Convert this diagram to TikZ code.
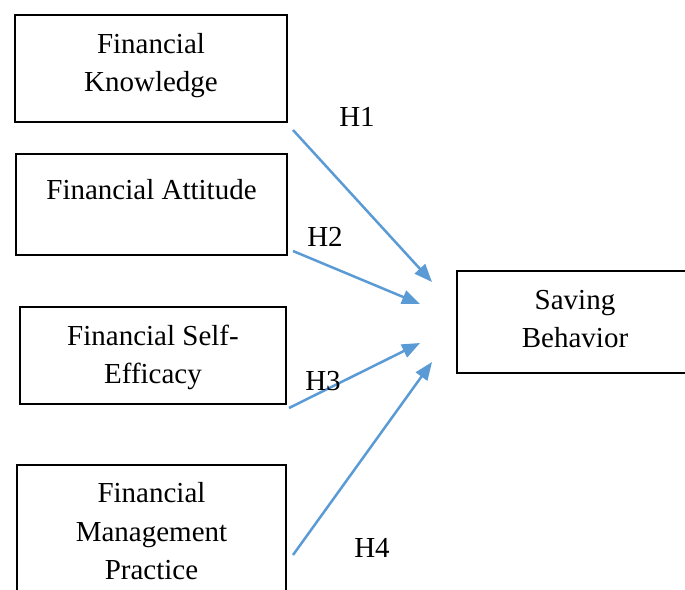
\documentclass[tikz,border=0pt]{standalone}
\usepackage{fontspec}
\setmainfont{Liberation Serif}
\usetikzlibrary{arrows.meta,calc}
\definecolor{linkblue}{HTML}{5B9BD5}
\tikzset{
  box/.style={draw=black, line width=2.5pt, inner sep=0pt, outer sep=0pt, rectangle},
  txt/.style={inner sep=0pt, align=center, font=\fontsize{29}{38.5}\selectfont},
  hyp/.style={inner sep=0pt, font=\fontsize{29}{38.5}\selectfont},
  link/.style={draw=linkblue, line width=2.5pt, -{Triangle[length=18pt,width=14pt]}}
}
\begin{document}
\begin{tikzpicture}[x=1pt, y=-1pt]
\clip (0,0) rectangle (685,589);
\fill[white] (0,0) rectangle (685,589);

% construct boxes
\node[box, minimum width=272pt, minimum height=107pt] (fk) at (151,68.5) {};
\node[box, minimum width=271pt, minimum height=101pt] (fa) at (151.5,204.5) {};
\node[box, minimum width=266pt, minimum height=97pt] (fs) at (153,355.5) {};
\node[box, minimum width=269pt, minimum height=155pt] (fm) at (151.5,542.5) {};
\node[box, minimum width=243pt, minimum height=102pt] (sb) at (578.5,322) {};

% box captions
\node[txt] (fkt) at (151,65.5) {Financial\\Knowledge};
\node[txt] (fat) at (151.5,190) {Financial Attitude};
\node[txt] (fst) at (153,357.5) {Financial Self-\\Efficacy};
\node[txt] (fmt) at (151.5,531.5) {Financial\\Management\\Practice};
\node[txt] (sbt) at (575,319) {Saving\\Behavior};

% arrow end points
\coordinate (s1) at ($(fk.south east)+(6,8)$);
\coordinate (s2) at ($(fa.south east)+(6,-4)$);
\coordinate (s3) at ($(fs.south east)+(3,4)$);
\coordinate (s4) at ($(fm.north east)+(7,90)$);
\coordinate (t1) at ($(sb.west)+(-25,-40)$);
\coordinate (t2) at ($(sb.west)+(-37,-18)$);
\coordinate (t3) at ($(sb.west)+(-37,21)$);
\coordinate (t4) at ($(sb.west)+(-25,40)$);

\draw[link] (s1) -- (t1);
\draw[link] (s2) -- (t2);
\draw[link] (s3) -- (t3);
\draw[link] (s4) -- (t4);

% hypothesis labels
\node[hyp] (h1) at (357,117) {H1};
\node[hyp] (h2) at (325,237) {H2};
\node[hyp] (h3) at (323,381) {H3};
\node[hyp] (h4) at (372,548) {H4};
\end{tikzpicture}
\end{document}
